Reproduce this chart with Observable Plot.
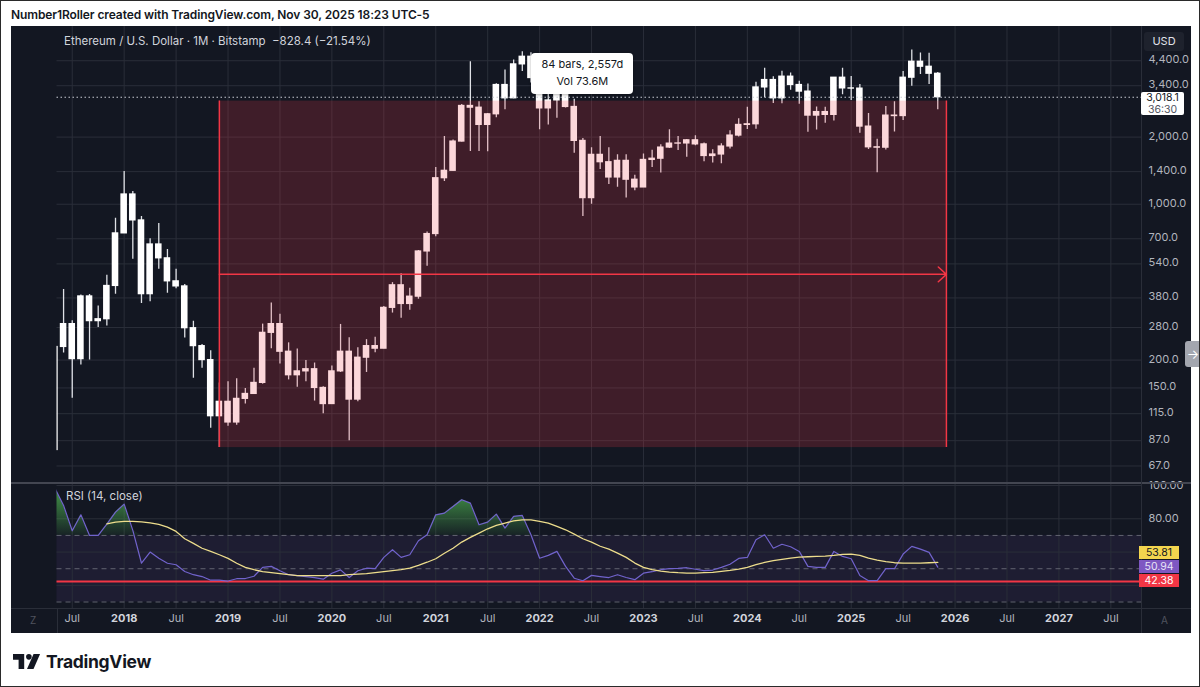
<!DOCTYPE html>
<html>
<head>
<meta charset="utf-8">
<script src="https://cdn.jsdelivr.net/npm/d3@7"></script>
<script src="https://cdn.jsdelivr.net/npm/@observablehq/plot@0.6"></script>
<style>
  html, body { margin: 0; padding: 0; background: #ffffff; }
  body { font-family: Inter, "Noto Sans", Roboto, sans-serif; }
  #page { position: relative; width: 1200px; height: 687px; overflow: hidden; box-sizing: border-box; border: 1px solid #2a2a2a; background: #fff; }
  #credit { position: absolute; left: 10px; top: 6px; font-size: 12px; font-weight: 600; color: #131722; letter-spacing: -0.1px; white-space: nowrap; }
  #frame { position: absolute; left: 10px; top: 25px; width: 1180px; height: 607px; background: #131722; overflow: hidden; }
  #frame svg { position: absolute; left: 0; display: block; }
  .abs { position: absolute; white-space: nowrap; }
  #legend { left: 53px; top: 8px; font-size: 11.5px; color: #d1d4dc; }
  #rsiLegend { left: 55px; top: 463px; font-size: 11.5px; color: #d1d4dc; }
  .sepH { position: absolute; left: 0; width: 1180px; background: #434651; }
  .sepV { position: absolute; top: 0; width: 1px; background: #2a2e39; }
  #usd { left: 1133px; top: 6px; width: 40px; height: 19px; line-height: 19px; text-align: center; font-size: 11px; color: #e0e3eb; background: #1e222d; border-radius: 3px; }
  #priceTag { width: 43px; height: 23px; background: #ffffff; color: #131722; font-size: 10.5px; text-align: center; border-radius: 2px; box-sizing: border-box; }
  #priceTag div { height: 11.5px; line-height: 11.5px; }
  #priceTag .cd { color: #50535e; }
  .rsiTag { width: 40px; height: 13px; line-height: 13px; font-size: 10.5px; text-align: center; }
  #tip { background: #ffffff; color: #131722; border-radius: 4px; font-size: 11px; line-height: 17px; text-align: center; padding: 3px 0; box-sizing: border-box; box-shadow: 0 1px 3px rgba(0,0,0,0.3); }
  .corner { font-size: 10px; color: #50535e; }
  #scrollBtn { left: 1184px; top: 340px; width: 16px; height: 26px; background: #a3a6af; color: #ffffff; font-size: 13px; line-height: 26px; text-align: center; border-radius: 3px 0 0 3px; }
  #brand { left: 12px; top: 650px; display: flex; align-items: center; gap: 5px; }
  #brand .name { font-size: 17.5px; font-weight: 700; color: #131722; letter-spacing: -0.3px; }
</style>
</head>
<body>
<div id="page">
  <div id="credit">Number1Roller created with TradingView.com, Nov 30, 2025 18:23 UTC-5</div>
  <div id="frame"></div>
  <div id="scrollBtn" class="abs">→</div>
  <div id="brand" class="abs">
    <svg width="28" height="15" viewBox="0 0 30 16">
      <path d="M0 0 H12 V16 H6 V6 H0 Z" fill="#131722"/>
      <circle cx="17" cy="3" r="3" fill="#131722"/>
      <path d="M22 0 H29 L22 16 H15 Z" fill="#131722"/>
    </svg>
    <span class="name">TradingView</span>
  </div>
</div>
<script>
// ---------------- data ----------------
const firstMonth = "2017-05";          // first monthly bar shown
const open  = [79,229,290,202,386,299,305,430,740,1106,846,395,660,572,451,428,278,231,200,112,130,105,134,141,158,265,290,218,171,178,182,150,127,178,218,133,205,231,225,343,433,357,385,614,735,1308,1412,1910,2759,2710,2268,2531,3425,2985,4238,4585,3680,2690,2920,3280,2730,1923,1065,1665,1543,1318,1565,1288,1189,1580,1600,1795,1870,1873,1935,1855,1645,1671,1815,2032,2268,2283,3340,3606,2985,3733,3425,3199,2497,2590,2515,3693,3307,3300,2229,1800,1793,2497,2485,3693,4355,4135,3846.5];
const high  = [230,415,300,392,394,350,480,865,1402,1140,880,700,820,627,511,437,299,235,220,158,160,165,149,184,290,361,321,239,224,199,194,152,188,289,252,227,247,253,348,445,488,420,620,750,1460,2011,1943,2800,4355,2883,2550,3470,3998,4430,4825,4780,3900,3280,3480,3580,2960,1970,1790,2011,1790,1665,1665,1350,1680,1745,1850,2160,2010,1950,2030,1880,1755,1865,2135,2420,2720,3520,4067,3730,3950,3880,3560,3460,2730,2720,3560,4067,3740,3440,2550,1955,2740,2880,3940,4910,4770,4755,3900];
const low   = [78,215,135,190,200,280,284,395,740,566,359,365,511,399,418,251,166,184,99,81,101,102,127,141,156,225,192,163,151,160,131,115,127,176,87,130,176,216,225,325,308,335,375,527,715,1265,1410,1900,1722,1722,1718,2440,2650,2970,3935,3500,2160,2268,2430,2700,1692,881,1000,1431,1226,1190,1065,1150,1189,1460,1380,1780,1740,1625,1830,1550,1530,1520,1770,2000,2165,2170,3000,2830,2820,3240,2810,2101,2150,2310,2360,3100,2920,2080,1760,1385,1750,2110,2375,3380,3820,3440,2650];
const close = [229,290,202,386,299,305,430,740,1106,846,395,660,572,451,428,278,231,200,112,130,105,134,141,158,265,290,218,171,178,182,150,127,178,218,133,205,231,225,343,433,357,385,614,735,1308,1412,1910,2759,2710,2268,2531,3425,2985,4238,4585,3680,2690,2920,3280,2730,1923,1065,1665,1543,1318,1565,1288,1189,1580,1600,1795,1870,1873,1935,1855,1645,1671,1815,2032,2268,2283,3340,3606,2985,3733,3425,3199,2497,2590,2515,3693,3307,3300,2229,1800,1793,2497,2485,3693,4355,4135,3846.5,3018.1];
const rsi   = [98.4,88,72.8,82.4,70,70,76.8,84,88.8,73,53.3,60,56.3,53.3,52.4,48.3,46.4,45.3,43.1,43.1,42.6,44,44.1,45.5,50.8,51.4,48.8,46.4,45.8,45.3,44.7,43.7,47.3,49.3,44.7,48.8,50.3,50,56.8,61.4,56.8,58.4,66.8,70.4,82.4,83.4,87.4,91.4,89.4,76.4,78,82.8,74.4,81.4,82,70.4,56.3,58,60.4,51.4,44.3,42.8,46,45.3,44.7,46.4,44.7,43.4,47.3,48.2,49.4,50,50.2,50.6,49.7,48.9,49.2,50.8,52.7,56.2,56.8,67.4,70.4,62.3,64.7,63.2,60.4,51.4,50.8,50.8,60.4,57.4,56,45.9,42.8,42.8,50,50,58.8,63.4,61.8,59.8,50.94];
const rsiMA = [null,null,null,null,null,null,77,78,78.4,78.5,78.2,77.6,76.6,75,72.4,68,65.2,62.3,60.4,58.4,56.2,53.3,50.8,49.4,48.3,47.6,47,46.4,45.9,45.8,45.8,45.8,45.8,45.9,46.4,46.7,47.1,47.7,48.3,48.9,49.5,50.3,52,53.9,56,59.3,62.3,66,68.8,71.4,74,76,77.4,78.8,79.4,79.4,78.4,77.4,75.4,73.4,70.8,68,66,63.5,61.8,59.4,56.8,53.4,50.8,49.4,48.6,48,47.6,47.4,47.4,47.6,47.8,48.4,49,49.8,50.8,52.4,53.8,54.8,55.6,56.4,57,57.2,57.4,57.6,58,58.6,58.8,58,56.4,55.2,54.2,53.6,53.4,53.4,53.4,53.6,53.81];

const priceTicks = [4400, 3400, 2000, 1400, 1000, 700, 540, 380, 280, 200, 150, 115, 87, 67];
const rsiAxisTicks = [100, 80];
const rsiGridLevels = [100, 80, 60, 40];
const rsiBandLevels = [70, 50, 30];
const rsiBand = [30, 70];
const rsiOverbought = 70;
const rsiLevelLine = 42.38;
const yearLabels = ["2018","2019","2020","2021","2022","2023","2024","2025","2026","2027"];
const midLabel = "Jul";
const rangeStart = "2018-12";      // date range tool
const rangeEnd = "2025-12";
const rangeLow = 81, rangeHigh = 2900;
const rangeText = ["84 bars, 2,557d", "Vol 73.6M"];
const lastPrice = 3018.1, countdown = "36:30";
const rsiLast = 50.94, rsiMALast = 53.81;
const legendText = "Ethereum / U.S. Dollar · 1M · Bitstamp";
const changeText = "−828.4 (−21.54%)";

// ---------------- helpers ----------------
const monthIndex = s => { const [y, m] = s.split("-").map(Number); return (y - 2018) * 12 + (m - 1); };
const m0 = monthIndex(firstMonth);
const data = open.map((o, i) => ({ m: m0 + i, o, h: high[i], l: low[i], c: close[i], rsi: rsi[i], ma: rsiMA[i] }));
const yearTicks = yearLabels.map(y => monthIndex(y + "-01"));
const julTicks = [monthIndex("2017-07"), ...yearLabels.map(y => monthIndex(y + "-07"))];
const gridMonths = [...julTicks, ...yearTicks];
const r1 = monthIndex(rangeStart), r2 = monthIndex(rangeEnd);
const rangeMid = Math.sqrt(rangeLow * rangeHigh);

// ---------------- layout ----------------
const FONT = 'Inter, "Noto Sans", Roboto, sans-serif';
const W = 1180, ML = 45.5, MR = 50;
const priceH = 456, rsiH = 125, xAxisH = 25;
const xDomain = [-7.76, 117.54];
const priceDomain = [56.5, 6266];
const rsiDomain = [26.1, 101.2];
const GRID = "#2a2e39";
const AXIS = "#b2b5be";
const RED = "#f23645";
const fmtPrice = d3.format(",.1f");

const frame = document.getElementById("frame");

const priceChart = Plot.plot({
  width: W, height: priceH, marginLeft: ML, marginRight: MR, marginTop: 0, marginBottom: 0,
  style: { background: "transparent", fontFamily: FONT, fontSize: "11px", color: AXIS, overflow: "visible" },
  x: { type: "linear", domain: xDomain, axis: null },
  y: { type: "log", domain: priceDomain, axis: null },
  marks: [
    Plot.ruleX(gridMonths, { x: d => d, stroke: GRID, strokeWidth: 1 }),
    Plot.ruleY(priceTicks, { y: d => d, stroke: GRID, strokeWidth: 1 }),
    Plot.ruleX(data, { x: "m", y1: "l", y2: "h", stroke: "#dfe1e6", strokeWidth: 1.3, clip: true }),
    Plot.rect(data, { x1: d => d.m - 0.38, x2: d => d.m + 0.38, y1: "o", y2: "c", fill: "#ffffff", insetTop: -0.6, insetBottom: -0.6, clip: true }),
    Plot.rect([0], { x1: r1, x2: r2, y1: rangeLow, y2: rangeHigh, fill: RED, fillOpacity: 0.2 }),
    Plot.ruleX([r1, r2], { x: d => d, y1: rangeLow, y2: rangeHigh, stroke: RED, strokeWidth: 1.5 }),
    Plot.arrow([0], { x1: r1, x2: r2, y1: rangeMid, y2: rangeMid, stroke: RED, strokeWidth: 1.5, headLength: 11, headAngle: 85 }),
    Plot.ruleY([lastPrice], { y: d => d, stroke: "#c9ccd4", strokeWidth: 1, strokeDasharray: "1.5,2.5" }),
    Plot.text(priceTicks, { y: d => d, text: d => fmtPrice(d), frameAnchor: "right", textAnchor: "start", dx: 7, dy: -1, fill: AXIS, fontSize: 11 })
  ]
});
priceChart.style.top = "0px";
frame.appendChild(priceChart);

const rsiChart = Plot.plot({
  width: W, height: rsiH + xAxisH, marginLeft: ML, marginRight: MR, marginTop: 0, marginBottom: xAxisH,
  style: { background: "transparent", fontFamily: FONT, fontSize: "11px", color: AXIS, overflow: "visible" },
  x: { type: "linear", domain: xDomain, axis: null },
  y: { type: "linear", domain: rsiDomain, axis: null },
  marks: [
    Plot.rect([0], { x1: xDomain[0], x2: xDomain[1], y1: rsiBand[0], y2: rsiBand[1], fill: "#7e57c2", fillOpacity: 0.1 }),
    Plot.ruleX(gridMonths, { x: d => d, stroke: GRID, strokeWidth: 1 }),
    Plot.ruleY(rsiGridLevels, { y: d => d, stroke: GRID, strokeWidth: 1 }),
    Plot.ruleY(rsiBandLevels, { y: d => d, stroke: "#787b86", strokeWidth: 1, strokeDasharray: "5,4", strokeOpacity: 0.75 }),
    Plot.ruleY([rsiLevelLine], { y: d => d, stroke: RED, strokeWidth: 2 }),
    Plot.areaY(data, { x: "m", y1: rsiOverbought, y2: d => Math.max(d.rsi, rsiOverbought), fill: "url(#rsiGreen)", clip: true }),
    Plot.line(data, { x: "m", y: "rsi", stroke: "#7163cc", strokeWidth: 1.2, clip: true }),
    Plot.line(data.filter(d => d.ma != null), { x: "m", y: "ma", stroke: "#eddd8c", strokeWidth: 1.3, clip: true }),
    Plot.text(rsiAxisTicks, { y: d => d, text: d => d.toFixed(2), frameAnchor: "right", textAnchor: "start", dx: 7, fill: AXIS, fontSize: 11 }),
    Plot.text(yearTicks, { x: d => d, text: (d, i) => yearLabels[i], frameAnchor: "bottom", dy: 13, fill: "#d1d4dc", fontWeight: "bold", fontSize: 11 }),
    Plot.text(julTicks, { x: d => d, text: () => midLabel, frameAnchor: "bottom", dy: 13, fill: AXIS, fontSize: 11 })
  ]
});
rsiChart.style.top = (priceH + 1) + "px";
frame.appendChild(rsiChart);

// green gradient for overbought fill
const ryS = rsiChart.scale("y");
const defs = document.createElementNS("http://www.w3.org/2000/svg", "defs");
defs.innerHTML = `<linearGradient id="rsiGreen" gradientUnits="userSpaceOnUse" x1="0" x2="0" y1="${ryS.apply(100)}" y2="${ryS.apply(rsiOverbought)}">
  <stop offset="0" stop-color="#4caf50" stop-opacity="0.9"/><stop offset="1" stop-color="#4caf50" stop-opacity="0.08"/></linearGradient>`;
rsiChart.prepend(defs);

// separators
function addDiv(cls, css, html) { const d = document.createElement("div"); d.className = cls; Object.assign(d.style, css); if (html != null) d.innerHTML = html; frame.appendChild(d); return d; }
addDiv("sepH", { top: priceH + "px", height: "2px" });
addDiv("sepH", { top: (priceH + 1 + rsiH) + "px", height: "1px", background: "#2a2e39" });
addDiv("sepV", { left: (W - MR) + "px", height: "607px" });
addDiv("sepV", { left: ML + "px", top: (priceH + 1 + rsiH) + "px", height: xAxisH + "px" });

// text overlays
const pxS = priceChart.scale("x"), pyS = priceChart.scale("y");
addDiv("abs", {}, legendText + "&nbsp;&nbsp;" + changeText).id = "legend";
addDiv("abs", {}, "RSI (14, close)").id = "rsiLegend";
addDiv("abs", {}, "USD").id = "usd";
const tag = addDiv("abs", { left: (W - MR) + "px", top: (pyS.apply(lastPrice) - 4.5) + "px" }, "<div>" + fmtPrice(lastPrice) + "</div><div class='cd'>" + countdown + "</div>");
tag.id = "priceTag";
const tipW = 102, tipH = 41;
const tip = addDiv("abs", { left: ((pxS.apply(r1) + pxS.apply(r2)) / 2 - tipW / 2) + "px", top: (pyS.apply(rangeHigh) - 7 - tipH) + "px", width: tipW + "px", height: tipH + "px" }, rangeText.join("<br>"));
tip.id = "tip";
const rsiTop = priceH + 1;
function rsiTag(v, yOff, bg, fg) {
  addDiv("abs rsiTag", { left: (W - MR - 2) + "px", top: (rsiTop + ryS.apply(v) - 6.5 + yOff) + "px", background: bg, color: fg }, v.toFixed(2));
}
rsiTag(rsiMALast, -14 - (ryS.apply(rsiMALast) - ryS.apply(rsiLast)), "#f4d64e", "#131722");
rsiTag(rsiLast, 0, "#7e57c2", "#e8e4f7");
rsiTag(rsiLevelLine, 0, RED, "#ffffff");
addDiv("abs corner", { left: "19px", top: (rsiTop + rsiH + 6) + "px" }, "Z");
addDiv("abs corner", { left: "1150px", top: (rsiTop + rsiH + 6) + "px" }, "A");
</script>
</body>
</html>
